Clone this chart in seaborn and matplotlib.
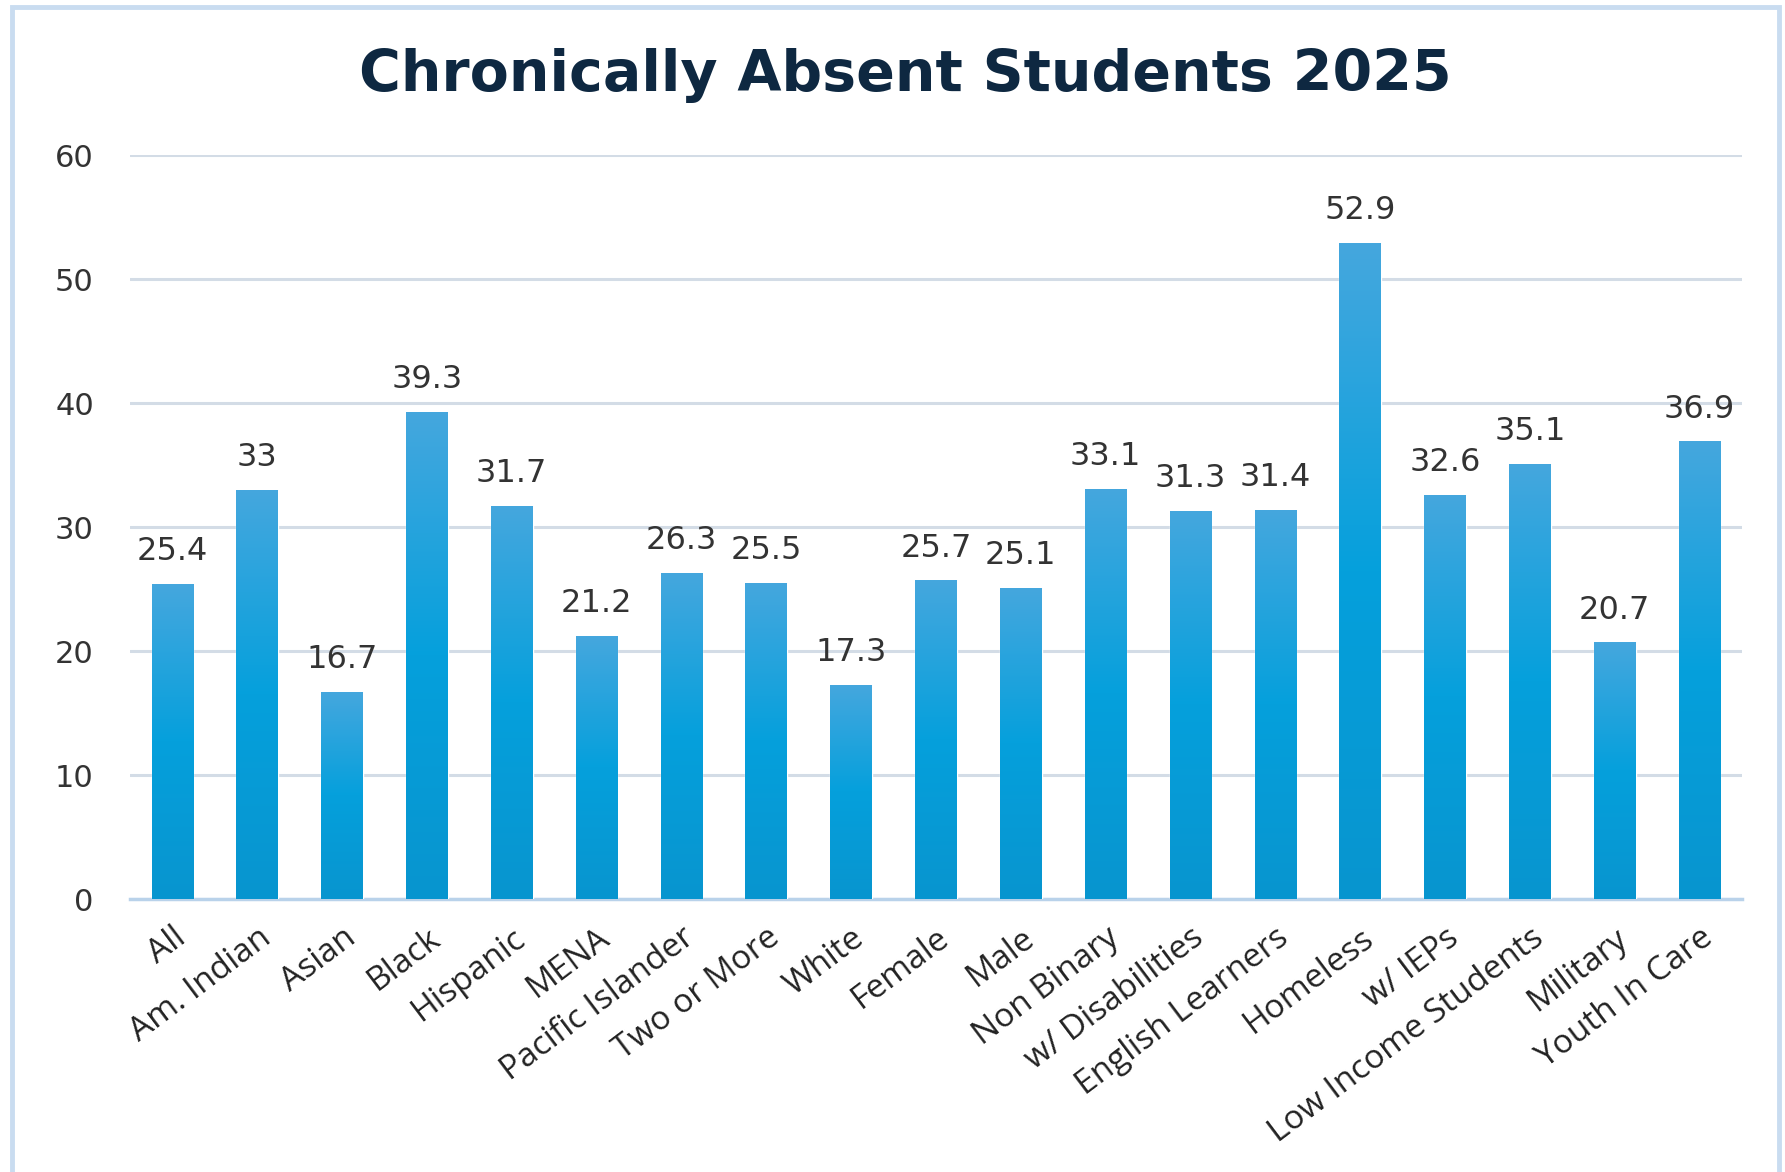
import numpy as np
import pandas as pd
import matplotlib
matplotlib.use("Agg")
import matplotlib.pyplot as plt
import seaborn as sns
from matplotlib.colors import LinearSegmentedColormap
from matplotlib.patches import Rectangle

# Chronic absence rate (%) by student group
groups = ["All", "Am. Indian", "Asian", "Black", "Hispanic", "MENA",
          "Pacific Islander", "Two or More", "White", "Female", "Male",
          "Non Binary", "w/ Disabilities", "English Learners", "Homeless",
          "w/ IEPs", "Low Income Students", "Military", "Youth In Care"]
rates = [25.4, 33, 16.7, 39.3, 31.7, 21.2, 26.3, 25.5, 17.3, 25.7, 25.1,
         33.1, 31.3, 31.4, 52.9, 32.6, 35.1, 20.7, 36.9]
y_ticks = [0, 10, 20, 30, 40, 50, 60]
title = "Chronically Absent Students 2025"

df = pd.DataFrame({"group": groups, "rate": rates})

sns.set_theme(style="white")
plt.rcParams["font.family"] = ["DejaVu Sans"]

fig = plt.figure(figsize=(17.85, 11.72), dpi=100)
fig.patch.set_facecolor("white")
ax = fig.add_axes([0.0728, 0.2329, 0.9031, 0.6348])

sns.barplot(data=df, x="group", y="rate", color="#0a9bd6", width=0.49,
            saturation=1, ax=ax, zorder=3)

# vertical blue gradient fill on each bar
grad_cmap = LinearSegmentedColormap.from_list(
    "bar_grad", ["#0895cf", "#05a0dc", "#45a7de"])
grad = np.linspace(0, 1, 256).reshape(-1, 1)
for patch in ax.patches:
    x0, y0 = patch.get_x(), patch.get_y()
    w, h = patch.get_width(), patch.get_height()
    im = ax.imshow(grad, cmap=grad_cmap, origin="lower", aspect="auto",
                   extent=[x0, x0 + w, y0, y0 + h], zorder=4)
    im.set_clip_path(patch)

ax.set_xlim(-0.5, len(groups) - 0.5)
ax.set_ylim(0, 60)
ax.set_yticks(y_ticks)
ax.set_xlabel("")
ax.set_ylabel("")

# value labels
for cont in ax.containers:
    ax.bar_label(cont, labels=[f"{v:g}" for v in rates], padding=12,
                 fontsize=23, color="#333333", zorder=5)

# grid and spines
ax.grid(axis="y", color="#d3dce6", linewidth=2.2, zorder=0)
for side in ["top", "right", "left"]:
    ax.spines[side].set_visible(False)
ax.spines["bottom"].set_color("#b9d2ea")
ax.spines["bottom"].set_linewidth(2.5)
ax.spines["bottom"].set_zorder(2)

ax.tick_params(axis="y", length=0, pad=26, labelsize=22, labelcolor="#333333")
ax.tick_params(axis="x", length=0, pad=16)
ax.set_xticks(range(len(groups)))
ax.set_xticklabels(groups, rotation=37, ha="right", rotation_mode="anchor",
                   fontsize=24, color="#222222",
                   family=["Open Sans", "DejaVu Sans"])

fig.text(0.507, 0.936, title, ha="center", va="center", fontsize=41,
         fontweight="bold", color="#0e2841")

# outer frame
fig.patches.append(Rectangle((0.0065, -0.01), 0.99, 1.004,
                             transform=fig.transFigure, fill=False,
                             edgecolor="#c9dcf0", linewidth=3.5))

fig.savefig("out.png", dpi=100, facecolor="white")
